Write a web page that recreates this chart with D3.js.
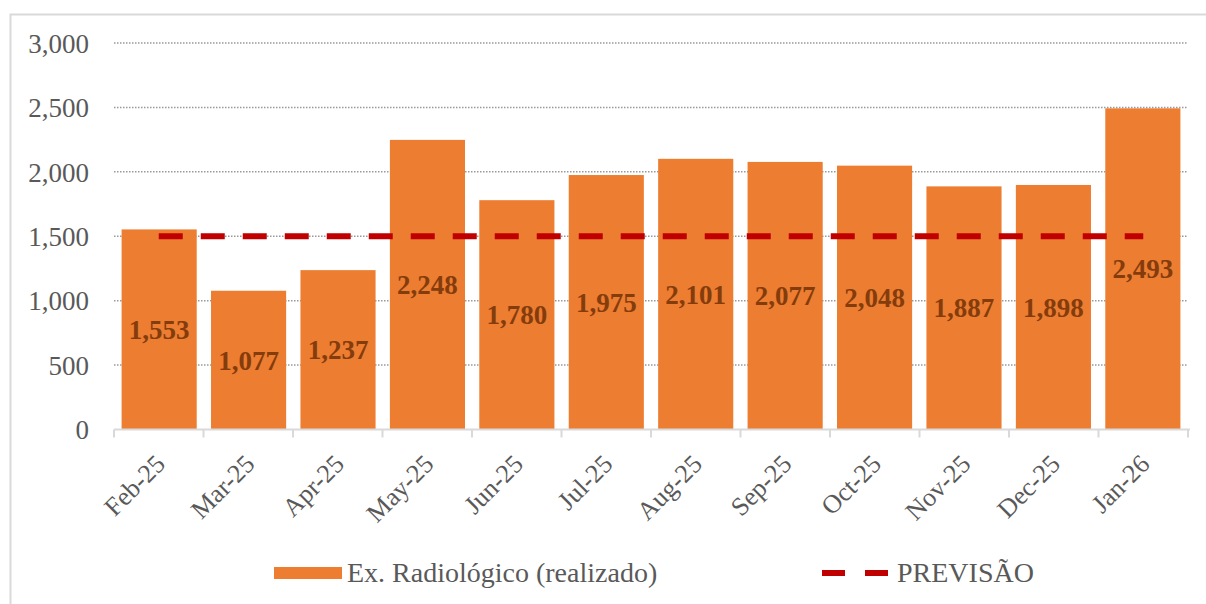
<!doctype html>
<html>
	<head>
		<meta charset="utf-8">
		<style>
			body{ margin:0; background:#fff; }
			#chart .grid line{ stroke:#999; stroke-width:1.5; stroke-dasharray:1.5,1.5; }
			#chart .domain{ display:none; }
		</style>
	</head>
	<body>
		<svg id=chart font-family="'Liberation Serif', 'Times New Roman', Times, serif"></svg>

		<script src="https://d3js.org/d3.v7.min.js"></script>
		<script>
			var months = ["Feb-25","Mar-25","Apr-25","May-25","Jun-25","Jul-25","Aug-25","Sep-25","Oct-25","Nov-25","Dec-25","Jan-26"];
			var realizado = [1553, 1077, 1237, 2248, 1780, 1975, 2101, 2077, 2048, 1887, 1898, 2493];
			var previsao = [1500, 1500, 1500, 1500, 1500, 1500, 1500, 1500, 1500, 1500, 1500, 1500];
			var yTicks = [0, 500, 1000, 1500, 2000, 2500, 3000];
			var legendLabels = ["Ex. Radiológico (realizado)", "PREVISÃO"];

			var W = 1206, H = 604,
				plotLeft = 114, plotRight = 1188, plotTop = 43, plotBottom = 429.5;

			var svg = d3.select("#chart").attr("width", W).attr("height", H);

			// outer frame
			svg.append("rect")
				.attr("x", 10.5).attr("y", 14.5)
				.attr("width", 1200).attr("height", 600)
				.attr("fill", "none").attr("stroke", "#d9d9d9").attr("stroke-width", 2);

			var x = d3.scaleBand().domain(months).range([plotLeft, plotRight]).paddingInner(0.16).paddingOuter(0.085);
			var xb = d3.scaleBand().domain(months).range([plotLeft, plotRight]); // full bands for ticks / line
			var y = d3.scaleLinear().domain([0, 3000]).range([plotBottom, plotTop]);

			// gridlines
			svg.append("g").attr("class", "grid")
				.selectAll("line").data(yTicks.filter(function(d){ return d > 0; }))
				.enter().append("line")
				.attr("x1", plotLeft).attr("x2", plotRight)
				.attr("y1", function(d){ return y(d); }).attr("y2", function(d){ return y(d); });

			// y axis labels
			var yAxis = d3.axisLeft(y).tickValues(yTicks).tickSize(0).tickPadding(0)
				.tickFormat(d3.format(","));
			svg.append("g")
				.attr("transform", "translate(89,0)")
				.call(yAxis)
				.attr("font-family", null).attr("font-size", null)
				.call(function(g){
					g.selectAll("text").attr("fill", "#595959").attr("font-size", 27).attr("dy", "0.34em");
				});

			// bars
			svg.append("g").selectAll("rect").data(realizado).enter().append("rect")
				.attr("x", function(d, i){ return x(months[i]); })
				.attr("y", function(d){ return y(d); })
				.attr("width", x.bandwidth())
				.attr("height", function(d){ return y(0) - y(d); })
				.attr("fill", "#ed7d31");

			// x axis baseline and ticks
			var xg = svg.append("g").attr("transform", "translate(0," + plotBottom + ")");
			xg.append("line").attr("x1", plotLeft).attr("x2", plotRight + 2)
				.attr("stroke", "#d9d9d9").attr("stroke-width", 2);
			xg.selectAll(".tk").data(months.concat(["end"])).enter().append("line")
				.attr("class", "tk")
				.attr("x1", function(d, i){ return plotLeft + i * xb.bandwidth(); })
				.attr("x2", function(d, i){ return plotLeft + i * xb.bandwidth(); })
				.attr("y1", 0).attr("y2", 8)
				.attr("stroke", "#d9d9d9").attr("stroke-width", 2);
			xg.selectAll(".lbl").data(months).enter().append("text")
				.attr("class", "lbl")
				.attr("transform", function(d){ return "translate(" + (xb(d) + xb.bandwidth() / 2 + 8) + ",36) rotate(-45)"; })
				.attr("text-anchor", "end")
				.attr("fill", "#595959")
				.attr("font-size", 26)
				.text(function(d){ return d; });

			// forecast dashed line
			var line = d3.line()
				.x(function(d, i){ return xb(months[i]) + xb.bandwidth() / 2; })
				.y(function(d){ return y(d); });
			svg.append("path").datum(previsao)
				.attr("d", line)
				.attr("fill", "none")
				.attr("stroke", "#c00000")
				.attr("stroke-width", 6)
				.attr("stroke-dasharray", "24,18");

			// value labels
			svg.append("g").selectAll("text").data(realizado).enter().append("text")
				.attr("x", function(d, i){ return x(months[i]) + x.bandwidth() / 2; })
				.attr("y", function(d){ return (y(d) + y(0)) / 2; })
				.attr("dy", "0.35em")
				.attr("text-anchor", "middle")
				.attr("font-size", 27)
				.attr("font-weight", "bold")
				.attr("fill", "#843c0c")
				.text(function(d){ return d3.format(",")(d); });

			// legend
			var lg = svg.append("g");
			lg.append("rect").attr("x", 274).attr("y", 567).attr("width", 68).attr("height", 12).attr("fill", "#ed7d31");
			lg.append("text").attr("x", 347).attr("y", 582).attr("font-size", 28).attr("fill", "#595959").text(legendLabels[0]);
			lg.append("line").attr("x1", 822).attr("x2", 888).attr("y1", 573).attr("y2", 573)
				.attr("stroke", "#c00000").attr("stroke-width", 6).attr("stroke-dasharray", "23,20");
			lg.append("text").attr("x", 897).attr("y", 582).attr("font-size", 28).attr("fill", "#595959").text(legendLabels[1]);
		</script>
	</body>
</html>
